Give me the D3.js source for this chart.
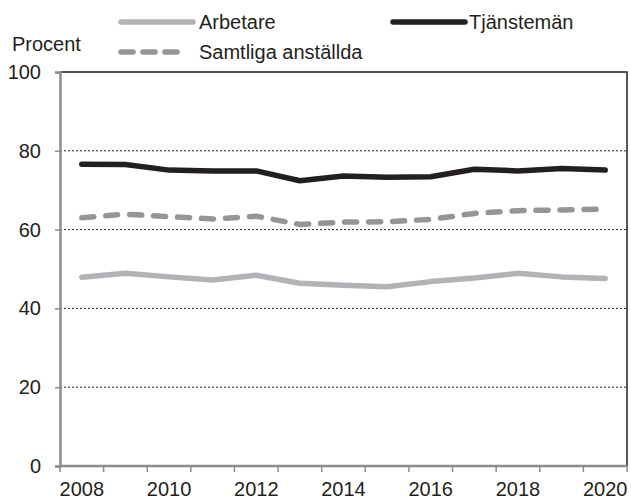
<!DOCTYPE html>
<html>
<head>
<meta charset="utf-8">
<script src="https://cdn.jsdelivr.net/npm/d3@7"></script>
<style>
  body { margin: 0; background: #fff; }
  text { font-family: "Liberation Sans", Arial, sans-serif; fill: #231f20; }
</style>
</head>
<body>
<div id="chart"></div>
<script>
// data
var years = [2008, 2009, 2010, 2011, 2012, 2013, 2014, 2015, 2016, 2017, 2018, 2019, 2020];
var arbetare   = [47.9, 48.9, 48.0, 47.2, 48.4, 46.4, 45.9, 45.5, 46.8, 47.7, 48.9, 48.0, 47.6];
var tjanstemen = [76.6, 76.5, 75.1, 74.9, 74.9, 72.4, 73.6, 73.3, 73.4, 75.3, 74.9, 75.5, 75.1];
var samtliga   = [63.0, 63.9, 63.3, 62.7, 63.4, 61.3, 61.9, 62.0, 62.6, 64.1, 64.8, 65.0, 65.2];
var yTicks = [0, 20, 40, 60, 80, 100];
var xLabels = [2008, 2010, 2012, 2014, 2016, 2018, 2020];

var width = 631, height = 499;
var margin = {left: 60, right: 4, top: 72, bottom: 33};

var series = [
  {name: "Arbetare", values: arbetare, color: "#b1b3b6", dash: null},
  {name: "Tjänstemän", values: tjanstemen, color: "#231f20", dash: null},
  {name: "Samtliga anställda", values: samtliga, color: "#939598", dash: "12,12"}
];

var svg = d3.select("#chart").append("svg")
  .attr("width", width)
  .attr("height", height);

var x = d3.scaleBand()
  .domain(years)
  .range([margin.left, width - margin.right])
  .paddingInner(0).paddingOuter(0);

var y = d3.scaleLinear()
  .domain([0, 100])
  .range([height - margin.bottom, margin.top]);

// dotted gridlines
svg.append("g").selectAll("line")
  .data(yTicks.filter(d => d > 0 && d < 100))
  .enter().append("line")
  .attr("x1", x.range()[0]).attr("x2", x.range()[1])
  .attr("y1", d => y(d)).attr("y2", d => y(d))
  .attr("stroke", "#231f20")
  .attr("stroke-width", 1)
  .attr("stroke-dasharray", "2,2");

// top and right frame
svg.append("path")
  .attr("d", "M" + x.range()[0] + "," + y(100) + "H" + x.range()[1] + "V" + y(0))
  .attr("fill", "none")
  .attr("stroke", "#231f20")
  .attr("stroke-width", 1.5);

// y axis
var yAxis = svg.append("g")
  .attr("transform", "translate(" + margin.left + ",0)")
  .call(d3.axisLeft(y).tickValues(yTicks).tickSize(5).tickPadding(14));
yAxis.select(".domain").attr("stroke", "#8a8c8e").attr("stroke-width", 2.5);
yAxis.selectAll(".tick line").attr("stroke", "#8a8c8e").attr("stroke-width", 1.5);
yAxis.selectAll("text").attr("font-size", 20).attr("fill", "#231f20")
  .attr("font-family", "Liberation Sans, Arial, sans-serif");

// x axis: ticks on category boundaries, labels every other year
var xAxisG = svg.append("g")
  .attr("transform", "translate(0," + y(0) + ")");
xAxisG.append("line")
  .attr("x1", x.range()[0]).attr("x2", x.range()[1])
  .attr("stroke", "#8a8c8e").attr("stroke-width", 2.5);
xAxisG.selectAll(".xtick")
  .data(years.concat([null]))
  .enter().append("line")
  .attr("class", "xtick")
  .attr("x1", (d, i) => x.range()[0] + i * x.bandwidth())
  .attr("x2", (d, i) => x.range()[0] + i * x.bandwidth())
  .attr("y1", 0).attr("y2", 6)
  .attr("stroke", "#8a8c8e").attr("stroke-width", 1.5);
xAxisG.selectAll(".xlabel")
  .data(xLabels)
  .enter().append("text")
  .attr("class", "xlabel")
  .attr("x", d => x(d) + x.bandwidth() / 2)
  .attr("y", 30)
  .attr("text-anchor", "middle")
  .attr("font-size", 20)
  .text(d => d);

// lines
var line = d3.line()
  .x((d, i) => x(years[i]) + x.bandwidth() / 2)
  .y(d => y(d));

svg.append("g").selectAll("path")
  .data(series)
  .enter().append("path")
  .attr("d", d => line(d.values))
  .attr("fill", "none")
  .attr("stroke", d => d.color)
  .attr("stroke-width", 5.5)
  .attr("stroke-linecap", "round")
  .attr("stroke-linejoin", "round")
  .attr("stroke-dasharray", d => d.dash);

// axis title
svg.append("text")
  .attr("x", 12).attr("y", 51)
  .attr("font-size", 20)
  .text("Procent");

// legend
var legendPos = [
  {x: 121, y: 22},
  {x: 393, y: 22},
  {x: 121, y: 52}
];
var legend = svg.append("g").selectAll("g")
  .data(series)
  .enter().append("g")
  .attr("transform", (d, i) => "translate(" + legendPos[i].x + "," + legendPos[i].y + ")");
legend.append("line")
  .attr("x1", 0).attr("x2", (d, i) => i == 2 ? 62 : 72)
  .attr("y1", 0).attr("y2", 0)
  .attr("stroke", d => d.color)
  .attr("stroke-width", 5.5)
  .attr("stroke-linecap", "round")
  .attr("stroke-dasharray", d => d.dash ? "12,10" : null);
legend.append("text")
  .attr("x", (d, i) => i == 1 ? 76 : 78)
  .attr("y", 7)
  .attr("font-size", 20)
  .text(d => d.name);
</script>
</body>
</html>
